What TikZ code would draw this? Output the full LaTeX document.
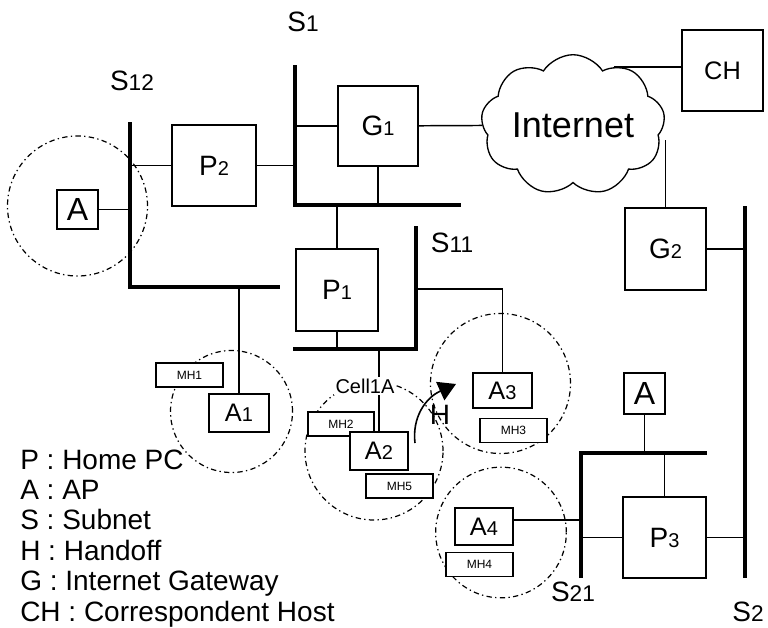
\documentclass[tikz,border=0pt]{standalone}
\usepackage{fontspec}
\setmainfont{Liberation Sans}
\usetikzlibrary{shapes.symbols, arrows.meta}

% small digits that sit on the baseline
\newcommand{\dig}[2][15]{{\fontsize{#1}{#1}\selectfont #2}}

\tikzset{
  unit/.style={draw, fill=white, line width=1.3pt, inner sep=0pt, font=\fontsize{21}{21}\selectfont},
  ap/.style={unit, font=\fontsize{19}{19}\selectfont},
  mh/.style={draw, fill=white, line width=1.3pt, inner sep=0pt, minimum width=50pt, minimum height=18pt, font=\fontsize{9}{9}\selectfont},
  bus/.style={line width=3.2pt},
  wire/.style={line width=1.1pt},
  cell/.style={line width=0.9pt, dash pattern=on 4pt off 2.5pt on 1pt off 2.5pt},
  subnet/.style={inner sep=0pt, font=\fontsize{21}{21}\selectfont},
  legend/.style={anchor=base west, inner sep=0pt, font=\fontsize{21}{21}\selectfont},
}

\begin{document}
\begin{tikzpicture}[x=0.75pt, y=-0.75pt]
    \useasboundingbox (0,0) rectangle (768,628);

    % cells
    \draw[cell] (77.5,206) circle (52.5pt);
    \draw[cell] (231.5,411.5) circle (45.75pt);
    \draw[cell] (374,451) circle (51.75pt);
    \draw[cell] (500.5,383.5) circle (52.5pt);
    \draw[cell] (501,532.5) circle (49pt);

    % subnets
    \coordinate (s12top) at (130,122);
    \coordinate (s12bend) at (130,287);
    \coordinate (s12end) at (280,287);
    \draw[bus] (s12top) -- (s12bend) -- (s12end);
    \coordinate (s1top) at (295,65);
    \coordinate (s1bend) at (295,205);
    \coordinate (s1end) at (461,205);
    \draw[bus] (s1top) -- (s1bend) -- (s1end);
    \coordinate (s11start) at (293,349);
    \coordinate (s11bend) at (416,349);
    \coordinate (s11top) at (416,226);
    \draw[bus] (s11start) -- (s11bend) -- (s11top);
    \coordinate (s2top) at (745,206);
    \coordinate (s2end) at (745,578);
    \draw[bus] (s2top) -- (s2end);
    \coordinate (s21end) at (581,578);
    \coordinate (s21bend) at (581,453);
    \coordinate (s21right) at (707,453);
    \draw[bus] (s21end) -- (s21bend) -- (s21right);

    % hosts
    \node[unit, minimum width=31pt, minimum height=29pt, font=\fontsize{24}{24}\selectfont] (a0) at (77.5,209.5) {A};
    \node[unit, minimum width=63pt, minimum height=61pt] (p2) at (214,165.5) {P\dig{2}};
    \node[unit, minimum size=60pt] (g1) at (378,126) {G\dig{1}};
    \node[unit, minimum size=61pt, font=\fontsize{19}{19}\selectfont] (ch) at (722.5,70.5) {CH};
    \node[cloud, draw, fill=white, line width=1pt, cloud puffs=9, cloud puff arc=115, aspect=1.5,
          minimum width=138pt, minimum height=93pt, inner sep=0pt, font=\fontsize{27}{27}\selectfont] (inet) at (573,125) {Internet};
    \node[unit, minimum size=61pt] (g2) at (665.5,249) {G\dig{2}};
    \node[unit, minimum size=61.5pt] (p1) at (337,290) {P\dig{1}};
    \node[ap, minimum width=45pt, minimum height=28.5pt] (a1) at (239,413) {A\dig{1}};
    \node[mh] (mh1) at (189.5,375) {MH1};
    \node[mh] (mh2) at (341,424) {MH2};
    \node[ap, minimum width=43.5pt, minimum height=28.5pt] (a2) at (379,451) {A\dig{2}};
    \node[mh] (mh5) at (399.5,486) {MH5};
    \node[ap, minimum width=44pt, minimum height=26pt] (a3) at (502.5,390.5) {A\dig{3}};
    \node[mh] (mh3) at (513.5,430.5) {MH3};
    \node[ap, minimum width=43.5pt, minimum height=28pt] (a4) at (484,526.5) {A\dig{4}};
    \node[mh] (mh4) at (479.5,564.5) {MH4};
    \node[unit, minimum size=31pt, font=\fontsize{24}{24}\selectfont] (a5) at (644.5,393.5) {A};
    \node[unit, minimum width=62pt, minimum height=61pt] (p3) at (664.5,537.5) {P\dig{3}};

    % links
    \draw[wire] (a0) -- (a0 -| s12top);
    \draw[wire] (p2) -- (p2 -| s12top);
    \draw[wire] (p2) -- (p2 -| s1top);
    \draw[wire] (g1) -- (g1 -| s1top);
    \draw[wire] (g1) -- (g1 |- s1bend);
    \draw[wire] (g1) -- (inet);
    \draw[wire] (inet.55) -- (inet.55 -| ch.west);
    \draw[wire] (g2) -- (g2 |- inet.-10);
    \draw[wire] (g2) -- (g2 -| s2top);
    \draw[wire] (p1) -- (p1 |- s1bend);
    \draw[wire] (p1) -- (p1 |- s11start);
    \draw[wire] (a1) -- (a1 |- s12bend);
    \draw[wire] (a2) -- (a2 |- s11start);
    \coordinate (s11tap) at (416,289);
    \draw[wire] (a3) |- (s11tap);
    \coordinate (a4tap) at (581,520);
    \draw[wire, line width=2pt] (a4.east |- a4tap) -- (a4tap);
    \draw[wire] (a5) -- (a5 |- s21bend);
    \draw[wire] (p3) -- (p3 |- s21bend);
    \draw[wire] (p3) -- (p3 -| s21bend);
    \draw[wire] (p3) -- (p3 -| s2top);

    % handoff
    \node[fill=white, inner sep=1pt, font=\fontsize{15}{15}\selectfont] (cell) at (365,386) {Cell1A};
    \draw[line width=1.2pt, -{Triangle[length=13pt, width=15pt]}] (415,443) .. controls (412,418) and (425,398) .. (456,384);
    \node[subnet] (h) at (440,415) {H};

    % subnet labels
    \node[subnet] (s1lbl) at (303,22) {S\dig[17]{1}};
    \node[subnet] (s12lbl) at (132,81) {S\dig[17]{12}};
    \node[subnet] (s11lbl) at (452,243) {S\dig[17]{11}};
    \node[subnet] (s21lbl) at (573,592) {S\dig[17]{21}};
    \node[subnet] (s2lbl) at (748,612) {S\dig[17]{2}};

    % legend
    \foreach \txt [count=\i from 0] in {P : Home PC, A : AP, S : Subnet, H : Handoff, G : Internet Gateway, CH : Correspondent Host}
        \node[legend] (leg\i) at (20,469+30.4*\i) {\txt};
\end{tikzpicture}
\end{document}
